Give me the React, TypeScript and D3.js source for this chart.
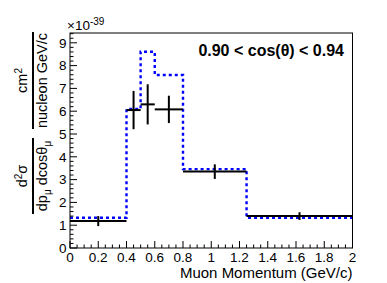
import React from "react";
import * as d3 from "d3";

const binEdges = [0, 0.4, 0.5, 0.6, 0.8, 1.25, 2.0];
const dataValues = [1.18, 6.05, 6.3, 6.08, 3.35, 1.4];
const dataErrors = [0.22, 0.84, 0.88, 0.6, 0.32, 0.17];
const mcValues = [1.33, 6.1, 8.61, 7.59, 3.46, 1.33];
const xTickLabels = ["0", "0.2", "0.4", "0.6", "0.8", "1", "1.2", "1.4", "1.6", "1.8", "2"];
const yTickLabels = ["0", "1", "2", "3", "4", "5", "6", "7", "8", "9"];

const W = 387;
const H = 283;
const L = 70;
const R = 352.5;
const T = 33;
const B = 248;
const FONT = "'Liberation Sans', Arial, Helvetica, sans-serif";

export default function App() {
  const x = d3.scaleLinear().domain([0, 2]).range([L, R]);
  const y = d3.scaleLinear().domain([0, 9.43]).range([B, T]);

  const xMinor = d3.range(0, 2.0001, 0.05);
  const yMinor = d3.range(0, 9.43, 0.2);

  const stepPts: [number, number][] = [];
  mcValues.forEach((v, i) => {
    stepPts.push([binEdges[i], v]);
    stepPts.push([binEdges[i + 1], v]);
  });
  const line = d3
    .line<[number, number]>()
    .x((d) => x(d[0]))
    .y((d) => y(d[1]));

  return (
    <svg
      width={W}
      height={H}
      style={{ position: "fixed", left: 0, top: 0, background: "#fff" }}
      fontFamily={FONT}
    >
      <rect x={0} y={0} width={W} height={H} fill="#fff" />
      {/* MC histogram */}
      <path d={line(stepPts) || ""} fill="none" stroke="#0000ff" strokeWidth={2.4} strokeDasharray="3,3" />
      {/* data */}
      {dataValues.map((v, i) => {
        const c = (binEdges[i] + binEdges[i + 1]) / 2;
        return (
          <g key={i} stroke="#000" strokeWidth={2}>
            <line x1={x(binEdges[i])} x2={x(binEdges[i + 1])} y1={y(v)} y2={y(v)} />
            <line x1={x(c)} x2={x(c)} y1={y(v - dataErrors[i])} y2={y(v + dataErrors[i])} />
          </g>
        );
      })}
      {/* frame */}
      <rect x={L} y={T} width={R - L} height={B - T} fill="none" stroke="#000" strokeWidth={1} />
      {/* x ticks */}
      {xMinor.map((t, i) => {
        const major = i % 4 === 0;
        return (
          <line key={"xm" + i} x1={x(t)} x2={x(t)} y1={B} y2={B - (major ? 7 : 3.5)} stroke="#000" strokeWidth={1} />
        );
      })}
      {xTickLabels.map((s, i) => (
        <text key={"xl" + i} x={x(i * 0.2)} y={262} fontSize={13.5} textAnchor="middle" fill="#000">
          {s}
        </text>
      ))}
      {/* y ticks */}
      {yMinor.map((t, i) => {
        const major = i % 5 === 0;
        return (
          <line key={"ym" + i} x1={L} x2={L + (major ? 7 : 3.5)} y1={y(t)} y2={y(t)} stroke="#000" strokeWidth={1} />
        );
      })}
      {yTickLabels.map((s, i) => (
        <text key={"yl" + i} x={66.5} y={y(i) + 4.8} fontSize={13.5} textAnchor="end" fill="#000">
          {s}
        </text>
      ))}
      {/* exponent */}
      <text x={67} y={30} fontSize={13.5} fill="#000">
        ×10
        <tspan fontSize={10} dy={-5}>
          -39
        </tspan>
      </text>
      {/* x axis title */}
      <text x={R} y={278} fontSize={15} textAnchor="end" fill="#000">
        Muon Momentum (GeV/c)
      </text>
      {/* annotation */}
      <text x={344} y={56} fontSize={16} fontWeight="bold" textAnchor="end" fill="#000">
        0.90 &lt; cos(θ) &lt; 0.94
      </text>
      {/* y axis title */}
      <g transform="rotate(-90)" fill="#000" fontSize={14.5}>
        <text x={-80.5} y={27} textAnchor="middle">
          cm<tspan fontSize={10} dy={-5}>2</tspan>
        </text>
        <line x1={-32} x2={-129} y1={33} y2={33} stroke="#000" strokeWidth={2} />
        <text x={-80.5} y={46.5} textAnchor="middle">
          nucleon GeV/c
        </text>
        <text x={-176} y={27} textAnchor="middle">
          d<tspan fontSize={10} dy={-5}>2</tspan>
          <tspan dy={5}>σ</tspan>
        </text>
        <line x1={-138} x2={-214} y1={33} y2={33} stroke="#000" strokeWidth={2} />
        <text x={-176} y={46.5} textAnchor="middle">
          dp<tspan fontSize={10} dy={4}>μ</tspan>
          <tspan dy={-4}> dcosθ</tspan>
          <tspan fontSize={10} dy={4}>μ</tspan>
        </text>
      </g>
    </svg>
  );
}
